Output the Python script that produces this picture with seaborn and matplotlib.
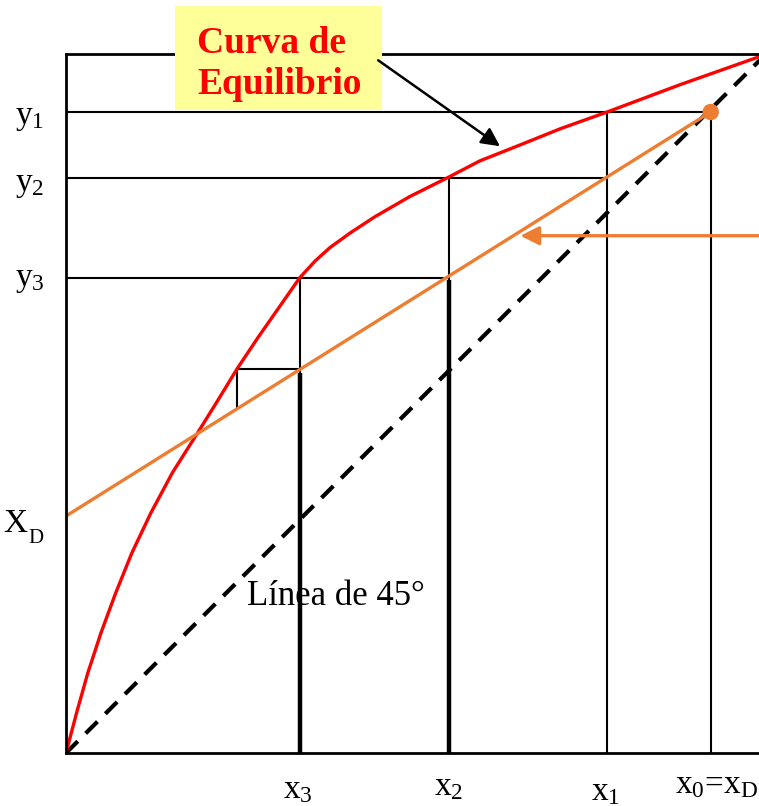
import matplotlib
matplotlib.use("Agg")
import matplotlib.pyplot as plt
from matplotlib.patches import Rectangle
import seaborn as sns
import pandas as pd

sns.set_style("white")
plt.rcParams['font.family'] = ['Liberation Serif', 'DejaVu Serif']
plt.rcParams['mathtext.fontset'] = 'custom'
plt.rcParams['mathtext.rm'] = 'Liberation Serif'
plt.rcParams['lines.scale_dashes'] = False
plt.rcParams['text.color'] = 'black'

# equilibrium curve (x, y)
eq_x = [0.0, 0.015, 0.031, 0.050, 0.071, 0.094, 0.121, 0.152, 0.188,
        0.216, 0.244, 0.274, 0.304, 0.334, 0.356, 0.377, 0.406, 0.441,
        0.491, 0.547, 0.591, 0.649, 0.706, 0.773, 0.877, 0.990]
eq_y = [0.0, 0.057, 0.114, 0.172, 0.229, 0.286, 0.343, 0.401, 0.458,
        0.503, 0.549, 0.594, 0.637, 0.680, 0.704, 0.723, 0.744, 0.767,
        0.796, 0.824, 0.847, 0.870, 0.893, 0.917, 0.956, 0.996]

# operating line ends
op_x = [0.0, 0.921]
op_y = [0.339, 0.917]

# stage compositions
xs = [0.921, 0.773, 0.547, 0.334, 0.244]   # x0=xD, x1, x2, x3, x4
ys = [0.917, 0.823, 0.680, 0.549]          # y1, y2, y3, y4
x_labels = ['$\\mathregular{x_0}$=$\\mathregular{x_D}$', '$\\mathregular{x_1}$',
            '$\\mathregular{x_2}$', '$\\mathregular{x_3}$']
y_labels = ['$\\mathregular{y_1}$', '$\\mathregular{y_2}$', '$\\mathregular{y_3}$']

red = '#FF0000'
orange = '#ED7D31'

fig = plt.figure(figsize=(7.59, 8.06), dpi=100)
ax = fig.add_axes([66/759, 53/806, 700/759, 699/806])
ax.set_xlim(0, 1)
ax.set_ylim(0, 1)
ax.set_xticks([])
ax.set_yticks([])
for s in ['left', 'bottom', 'top']:
    ax.spines[s].set_linewidth(2)
    ax.spines[s].set_color('black')
ax.spines['right'].set_visible(False)

# 45 degree line
sns.lineplot(x=[0, 1], y=[0, 1], ax=ax, color='black', lw=3, dashes=False)
ax.lines[-1].set_dashes((12, 8))

# stair steps: thin lines
ax.vlines(xs[0], 0, ys[0], color='black', lw=1.5)
ax.vlines(xs[1], 0, ys[0], color='black', lw=1.5)
ax.vlines(xs[2], 0, ys[1], color='black', lw=1.5)
ax.vlines(xs[3], 0, ys[2], color='black', lw=1.5)
ax.vlines(xs[4], 0.492, ys[3], color='black', lw=1.5)
ax.hlines(ys[0], 0, xs[0], color='black', lw=1.5)
ax.hlines(ys[1], 0, xs[1], color='black', lw=1.5)
ax.hlines(ys[2], 0, xs[2], color='black', lw=1.5)
ax.hlines(ys[3], xs[4], xs[3], color='black', lw=1.5)
# thick bottoms
ax.vlines(xs[2], 0, ys[2] - 0.004, color='black', lw=3.2)
ax.vlines(xs[3], 0, ys[3] - 0.005, color='black', lw=3.2)

# curves
df_eq = pd.DataFrame({'x': eq_x, 'y': eq_y})
sns.lineplot(data=df_eq, x='x', y='y', ax=ax, color=red, lw=2.4, sort=False)
sns.lineplot(x=op_x, y=op_y, ax=ax, color=orange, lw=2.4)
sns.scatterplot(x=[op_x[1]], y=[op_y[1]], ax=ax, color=orange, s=140,
                edgecolor='none', zorder=5)
ax.set_xlabel('')
ax.set_ylabel('')

# labels
for lab, yb in zip(y_labels, [0.900, 0.804, 0.668]):
    ax.text(-0.073, yb, lab, fontsize=24, ha='left', va='baseline', clip_on=False)
ax.text(-0.090, 0.316, 'X', fontsize=24, ha='left', va='baseline', clip_on=False)
ax.text(-0.054, 0.300, 'D', fontsize=15, ha='left', va='baseline', clip_on=False)
for lab, xl, yb in zip(x_labels, [0.870, 0.750, 0.525, 0.310],
                       [-0.057, -0.067, -0.060, -0.064]):
    ax.text(xl, yb, lab, fontsize=24, ha='left', va='baseline', clip_on=False)
ax.text(0.259, 0.212, 'Línea de 45°', fontsize=25, ha='left', va='baseline')

# callout box
box = Rectangle((0.156, 0.920), 0.295, 0.149, facecolor='#FFFF99',
                edgecolor='none', clip_on=False, zorder=6, transform=ax.transData)
ax.add_patch(box)
ax.text(0.187, 1.001, 'Curva de', fontsize=27, fontweight='bold', color=red,
        ha='left', va='baseline', zorder=7, clip_on=False)
ax.text(0.187, 0.943, 'Equilibrio', fontsize=27, fontweight='bold', color=red,
        ha='left', va='baseline', zorder=7, clip_on=False)
ax.annotate('', xy=(0.620, 0.868), xytext=(0.446, 0.991),
            arrowprops=dict(arrowstyle='-|>', color='black', lw=1.8,
                            mutation_scale=28, shrinkA=0, shrinkB=0),
            annotation_clip=False, zorder=7)

# operating line arrow
ax.annotate('', xy=(0.649, 0.740), xytext=(1.03, 0.740),
            arrowprops=dict(arrowstyle='-|>', color=orange, lw=2.4,
                            mutation_scale=28, shrinkA=0, shrinkB=0),
            annotation_clip=False)

fig.savefig('out.png', dpi=100)
